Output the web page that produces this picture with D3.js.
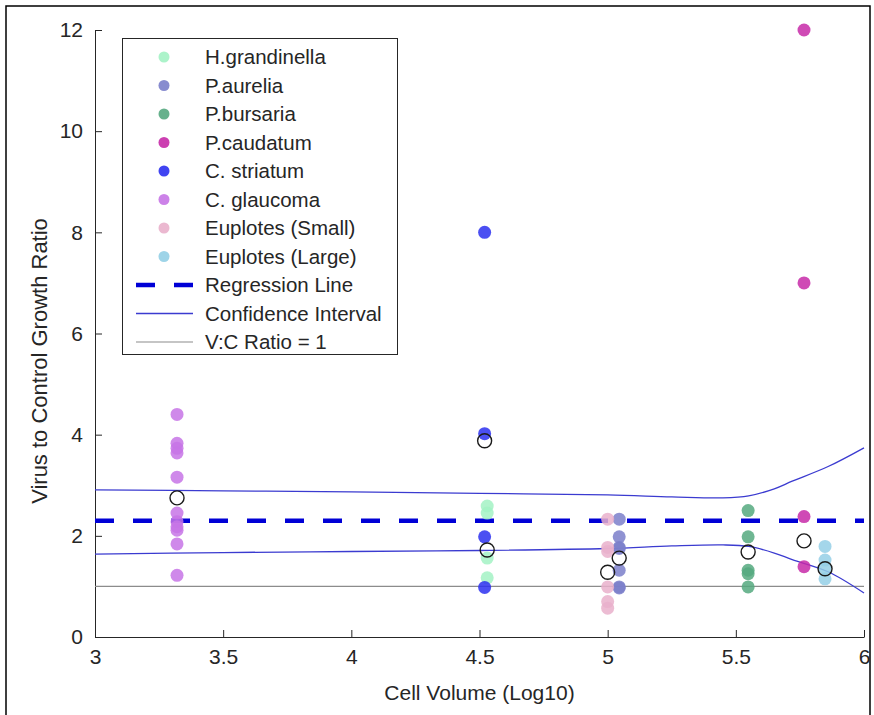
<!DOCTYPE html>
<html>
<head>
<meta charset="utf-8">
<script src="https://cdn.jsdelivr.net/npm/d3@7"></script>
<style>
  body { margin: 0; background: #fff; }
  text { font-family: "Liberation Sans", Arial, sans-serif; fill: #262626; }
</style>
</head>
<body>
<svg id="chart" width="874" height="715"></svg>
<script>
// species, their x position (log10 cell volume) and the measured V:C ratios
const species = ['H.grandinella', 'P.aurelia', 'P.bursaria', 'P.caudatum',
                 'C. striatum', 'C. glaucoma', 'Euplotes (Small)', 'Euplotes (Large)']
const speciesColors = ['#a3f2c4', '#7b7fca', '#55a97f', '#c72aa8',
                       '#2b30f0', '#c774e6', '#e9b0cb', '#94cfe6']
const speciesX = [4.53, 5.045, 5.548, 5.766, 4.52, 3.32, 5.0, 5.848]
const ratios = [
    [2.59, 2.45, 1.56, 1.17],
    [2.33, 1.98, 1.77, 1.75, 1.32, 0.99, 0.97],
    [2.5, 1.98, 1.32, 1.25, 0.99],
    [12, 7, 2.38, 1.39],
    [8, 4.02, 1.98, 0.98],
    [4.4, 3.83, 3.73, 3.64, 3.16, 2.45, 2.28, 2.18, 2.11, 1.84, 1.22],
    [2.33, 1.77, 1.69, 0.99, 0.7, 0.57],
    [1.79, 1.52, 1.36, 1.15]
]

// open circles (group averages)
const meanX = [3.32, 4.52, 4.53, 5.0, 5.045, 5.548, 5.766, 5.848]
const meanY = [2.75, 3.88, 1.72, 1.28, 1.56, 1.68, 1.9, 1.35]

// regression + confidence band
const regY = 2.3
const ciX = [3, 3.5, 4, 4.5, 5, 5.25, 5.45, 5.55, 5.65, 5.72, 5.86, 6]
const ciUpper = [2.91, 2.89, 2.87, 2.84, 2.81, 2.77, 2.75, 2.79, 2.93, 3.08, 3.37, 3.74]
const ciLower = [1.64, 1.67, 1.69, 1.71, 1.75, 1.8, 1.82, 1.79, 1.66, 1.53, 1.29, 0.87]
const refY = 1

const xTicks = [3, 3.5, 4, 4.5, 5, 5.5, 6]
const yTicks = [0, 2, 4, 6, 8, 10, 12]

const width = 874, height = 715
const marginLeft = 95, marginRight = 10, marginTop = 30, marginBottom = 78

const svg = d3.select('#chart')

const x = d3.scaleLinear([3, 6], [marginLeft, width - marginRight])
const y = d3.scaleLinear([0, 12], [height - marginBottom, marginTop])

// figure frame
svg.append('path')
   .attr('d', `M6,${height} V6 H${width - 4} V${height}`)
   .attr('fill', 'none')
   .attr('stroke', '#000')
   .attr('stroke-width', 1.5)

// axes (ticks point inward, matlab style)
const xAxis = d3.axisBottom(x).tickValues(xTicks).tickSizeInner(-7).tickSizeOuter(0)
    .tickPadding(12).tickFormat(d3.format('~g'))
const yAxis = d3.axisLeft(y).tickValues(yTicks).tickSizeInner(-7).tickSizeOuter(0)
    .tickPadding(12)

svg.append('g')
   .attr('transform', `translate(0,${y(0)})`)
   .call(xAxis)
   .call(g => g.select('.domain').attr('stroke', '#262626'))
   .call(g => g.selectAll('.tick line').attr('stroke', '#262626'))
   .call(g => g.selectAll('.tick text').attr('font-size', 21).attr('fill', '#262626')
               .attr('font-family', '"Liberation Sans", Arial, sans-serif'))

svg.append('g')
   .attr('transform', `translate(${x(3)},0)`)
   .call(yAxis)
   .call(g => g.select('.domain').attr('stroke', '#262626'))
   .call(g => g.selectAll('.tick line').attr('stroke', '#262626'))
   .call(g => g.selectAll('.tick text').attr('font-size', 21).attr('fill', '#262626')
               .attr('font-family', '"Liberation Sans", Arial, sans-serif'))

svg.append('text')
   .attr('x', (x(3) + x(6)) / 2)
   .attr('y', 700)
   .attr('text-anchor', 'middle')
   .attr('font-size', 21)
   .text('Cell Volume (Log10)')

svg.append('text')
   .attr('transform', `translate(47,361) rotate(-90)`)
   .attr('text-anchor', 'middle')
   .attr('font-size', 22)
   .text('Virus to Control Growth Ratio')

// reference lines
svg.append('line')
   .attr('x1', x(3)).attr('x2', x(6))
   .attr('y1', y(refY)).attr('y2', y(refY))
   .attr('stroke', '#8c8c8c').attr('stroke-width', 1.2)

const ciLine = d3.line().curve(d3.curveCatmullRom.alpha(0.5))
const ciColor = '#3b3bd0'
svg.append('path')
   .attr('d', ciLine(ciX.map((v, i) => [x(v), y(ciUpper[i])])))
   .attr('fill', 'none').attr('stroke', ciColor).attr('stroke-width', 1.3)
svg.append('path')
   .attr('d', ciLine(ciX.map((v, i) => [x(v), y(ciLower[i])])))
   .attr('fill', 'none').attr('stroke', ciColor).attr('stroke-width', 1.3)

svg.append('line')
   .attr('x1', x(3)).attr('x2', x(6))
   .attr('y1', y(regY)).attr('y2', y(regY))
   .attr('stroke', '#0000d6').attr('stroke-width', 4.5)
   .attr('stroke-dasharray', '19,19')

// data points
const pts = species.flatMap((s, i) => ratios[i].map(r => ({i, x: speciesX[i], y: r})))
svg.append('g')
 .selectAll('circle')
 .data(pts)
 .join('circle')
   .attr('cx', d => x(d.x))
   .attr('cy', d => y(d.y))
   .attr('r', 6.5)
   .attr('fill', d => speciesColors[d.i])
   .attr('fill-opacity', 0.85)

svg.append('g')
 .selectAll('circle')
 .data(meanX)
 .join('circle')
   .attr('cx', d => x(d))
   .attr('cy', (d, i) => y(meanY[i]))
   .attr('r', 7)
   .attr('fill', 'none')
   .attr('stroke', '#1a1a1a')
   .attr('stroke-width', 1.4)

// legend
const legend = svg.append('g')
legend.append('rect')
   .attr('x', 122.5).attr('y', 38.5)
   .attr('width', 275).attr('height', 316)
   .attr('fill', '#fff').attr('stroke', '#262626').attr('stroke-width', 1)

const rowY = i => 57 + i * 28.5
species.forEach((s, i) => {
    legend.append('circle')
       .attr('cx', 164).attr('cy', rowY(i)).attr('r', 5.5)
       .attr('fill', speciesColors[i]).attr('fill-opacity', 0.9)
    legend.append('text')
       .attr('x', 205).attr('y', rowY(i)).attr('dy', '0.35em')
       .attr('font-size', 20.5).text(s)
})
const lineItems = [
    {label: 'Regression Line', stroke: '#0000d6', w: 4.5, dash: '19,19'},
    {label: 'Confidence Interval', stroke: ciColor, w: 1.3, dash: null},
    {label: 'V:C Ratio = 1', stroke: '#8c8c8c', w: 1.2, dash: null}
]
lineItems.forEach((d, k) => {
    const yy = rowY(species.length + k)
    legend.append('line')
       .attr('x1', 136).attr('x2', 193)
       .attr('y1', yy).attr('y2', yy)
       .attr('stroke', d.stroke).attr('stroke-width', d.w)
       .attr('stroke-dasharray', d.dash)
    legend.append('text')
       .attr('x', 205).attr('y', yy).attr('dy', '0.35em')
       .attr('font-size', 20.5).text(d.label)
})
</script>
</body>
</html>
